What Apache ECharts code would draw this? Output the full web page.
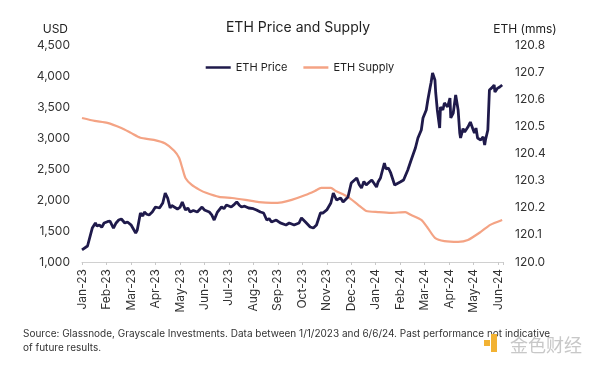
<!DOCTYPE html>
<html>
<head>
<meta charset="utf-8">
<script src="https://cdn.jsdelivr.net/npm/echarts@6/dist/echarts.min.js"></script>
<style>
html,body{margin:0;padding:0;background:#fff;}
#chart{width:600px;height:370px;}
</style>
</head>
<body>
<div id="chart"></div>
<script>
var monthLabels = ['Jan-23','Feb-23','Mar-23','Apr-23','May-23','Jun-23','Jul-23','Aug-23','Sep-23','Oct-23','Nov-23','Dec-23','Jan-24','Feb-24','Mar-24','Apr-24','May-24','Jun-24'];

var priceDates = ['2023-01-01','2023-01-02','2023-01-08','2023-01-14','2023-01-18','2023-01-20','2023-01-23','2023-01-26','2023-01-29','2023-02-02','2023-02-05','2023-02-09','2023-02-12','2023-02-15','2023-02-18','2023-02-22','2023-02-25','2023-03-01','2023-03-03','2023-03-07','2023-03-09','2023-03-13','2023-03-16','2023-03-18','2023-03-21','2023-03-24','2023-03-28','2023-04-01','2023-04-06','2023-04-10','2023-04-13','2023-04-16','2023-04-19','2023-04-21','2023-04-24','2023-04-28','2023-05-01','2023-05-04','2023-05-08','2023-05-11','2023-05-14','2023-05-18','2023-05-23','2023-05-29','2023-06-01','2023-06-07','2023-06-10','2023-06-13','2023-06-17','2023-06-22','2023-06-25','2023-06-28','2023-07-04','2023-07-08','2023-07-11','2023-07-14','2023-07-17','2023-07-21','2023-07-26','2023-08-01','2023-08-05','2023-08-10','2023-08-14','2023-08-18','2023-08-21','2023-08-24','2023-08-30','2023-09-04','2023-09-11','2023-09-15','2023-09-21','2023-09-27','2023-09-30','2023-10-05','2023-10-11','2023-10-15','2023-10-19','2023-10-24','2023-10-27','2023-11-01','2023-11-06','2023-11-09','2023-11-13','2023-11-18','2023-11-21','2023-11-27','2023-12-01','2023-12-08','2023-12-11','2023-12-14','2023-12-17','2023-12-20','2023-12-24','2023-12-27','2024-01-02','2024-01-04','2024-01-07','2024-01-12','2024-01-14','2024-01-17','2024-01-20','2024-01-25','2024-02-01','2024-02-05','2024-02-10','2024-02-14','2024-02-19','2024-02-22','2024-02-26','2024-02-28','2024-03-03','2024-03-05','2024-03-08','2024-03-09','2024-03-11','2024-03-14','2024-03-15','2024-03-17','2024-03-20','2024-03-21','2024-03-24','2024-03-26','2024-03-30','2024-04-02','2024-04-03','2024-04-06','2024-04-09','2024-04-12','2024-04-14','2024-04-15','2024-04-18','2024-04-20','2024-04-24','2024-04-27','2024-04-30','2024-05-02','2024-05-04','2024-05-06','2024-05-10','2024-05-13','2024-05-15','2024-05-16','2024-05-19','2024-05-21','2024-05-22','2024-05-25','2024-05-27','2024-05-28','2024-05-31','2024-06-03','2024-06-06'];
var priceValues = [1195,1210,1258,1548,1629,1580,1597,1560,1629,1650,1661,1548,1630,1677,1694,1629,1645,1600,1597,1468,1516,1790,1740,1806,1770,1758,1806,1887,1871,1952,2113,2032,1871,1910,1887,1855,1880,1968,1839,1870,1806,1830,1806,1887,1839,1806,1760,1677,1806,1887,1860,1919,1887,1930,1968,1920,1887,1900,1871,1860,1839,1806,1790,1677,1700,1645,1677,1630,1597,1629,1597,1629,1710,1645,1565,1548,1597,1790,1790,1839,1952,2113,2000,2032,1968,2048,2274,2355,2250,2194,2300,2242,2290,2323,2210,2290,2355,2597,2500,2516,2436,2242,2290,2323,2484,2645,2839,3000,3129,3323,3452,3613,3823,3887,4048,3935,3726,3452,3161,3500,3452,3565,3500,3645,3323,3403,3694,3452,3081,3000,3150,3097,3177,3258,3150,3081,3160,3000,2968,3020,2887,2968,3129,3774,3742,3820,3855,3742,3800,3823,3855];

var supplyDates = ['2023-01-01','2023-01-17','2023-02-02','2023-02-18','2023-03-01','2023-03-13','2023-03-30','2023-04-13','2023-04-24','2023-04-30','2023-05-04','2023-05-08','2023-05-16','2023-05-26','2023-06-03','2023-06-19','2023-07-05','2023-07-22','2023-08-08','2023-08-24','2023-09-06','2023-09-18','2023-10-05','2023-10-17','2023-10-25','2023-11-06','2023-11-12','2023-11-27','2023-12-10','2023-12-20','2024-01-04','2024-01-20','2024-02-07','2024-02-14','2024-02-26','2024-03-05','2024-03-14','2024-03-26','2024-04-12','2024-04-24','2024-05-10','2024-05-22','2024-06-06'];
var supplyValues = [120.531,120.520,120.513,120.494,120.476,120.458,120.450,120.437,120.410,120.384,120.347,120.310,120.284,120.266,120.255,120.240,120.236,120.229,120.221,120.218,120.220,120.229,120.247,120.262,120.273,120.273,120.262,120.240,120.210,120.188,120.184,120.181,120.184,120.173,120.155,120.125,120.089,120.077,120.074,120.081,120.111,120.137,120.155];

var priceTicks = [1000,1500,2000,2500,3000,3500,4000,4500];
var supplyTicks = [120.0,120.1,120.2,120.3,120.4,120.5,120.6,120.7,120.8];

function monthIndex(s){
  var p = s.split('-').map(Number);
  var dim = new Date(p[0], p[1], 0).getDate();
  return (p[0]-2023)*12 + (p[1]-1) + (p[2]-1)/dim;
}
function pairs(dates, vals){
  return dates.map(function(d,i){ return [monthIndex(d), vals[i]]; });
}

var FONT = 'Inter, "Noto Sans", sans-serif';
var chart = echarts.init(document.getElementById('chart'), null, {renderer:'canvas'});
chart.setOption({
  animation:false,
  backgroundColor:'#fff',
  textStyle:{fontFamily:FONT},
  title:{
    text:'ETH Price and Supply',
    left:293, top:16, textAlign:'center',
    textStyle:{fontSize:14, fontWeight:'normal', color:'#222', fontFamily:FONT}
  },
  legend:{
    top:57, left:'center',
    icon:'rect', itemWidth:25, itemHeight:2.5, itemGap:16,
    textStyle:{fontSize:11, color:'#222', fontFamily:FONT},
    data:['ETH Price','ETH Supply']
  },
  grid:{left:82, right:97, top:45, bottom:108, containLabel:false},
  xAxis:{
    type:'value', min:0, max:17.2, interval:1,
    axisLine:{show:true, lineStyle:{color:'#d0d0d0', width:1}},
    axisTick:{show:true, length:3, inside:false, lineStyle:{color:'#c8c8c8'}},
    splitLine:{show:false},
    axisLabel:{
      rotate:90, margin:7, fontSize:12, color:'#333', fontFamily:FONT,
      formatter:function(v){ var i=Math.round(v); return Math.abs(v-i)<1e-6 && monthLabels[i] ? monthLabels[i] : ''; }
    }
  },
  yAxis:[{
    type:'value', min:priceTicks[0], max:priceTicks[priceTicks.length-1], interval:500,
    position:'left',
    name:'USD', nameLocation:'end', nameGap:10,
    nameTextStyle:{fontSize:12, color:'#222', align:'right', padding:[0,14,0,0], fontFamily:FONT},
    axisLine:{show:false}, axisTick:{show:false}, splitLine:{show:false},
    axisLabel:{fontSize:12, color:'#333', margin:12, fontFamily:FONT,
      formatter:function(v){ return v.toLocaleString('en-US'); }}
  },{
    type:'value', min:supplyTicks[0], max:supplyTicks[supplyTicks.length-1], interval:0.1,
    position:'right',
    name:'ETH (mms)', nameLocation:'end', nameGap:10,
    nameTextStyle:{fontSize:12, color:'#222', align:'center', padding:[0,0,0,44], fontFamily:FONT},
    axisLine:{show:false}, axisTick:{show:false}, splitLine:{show:false},
    axisLabel:{fontSize:12, color:'#333', margin:12, fontFamily:FONT,
      formatter:function(v){ return v.toFixed(1); }}
  }],
  series:[{
    name:'ETH Supply', type:'line', yAxisIndex:1,
    data:pairs(supplyDates, supplyValues),
    symbol:'none', smooth:0.2,
    lineStyle:{color:'#f4a384', width:2.2},
    itemStyle:{color:'#f4a384'},
    z:2
  },{
    name:'ETH Price', type:'line', yAxisIndex:0,
    data:pairs(priceDates, priceValues),
    symbol:'none', smooth:false,
    lineStyle:{color:'#1f1a4b', width:2.8},
    itemStyle:{color:'#1f1a4b'},
    z:3
  }],
  graphic:[{
    type:'text', left:23, top:327,
    style:{
      text:'Source: Glassnode, Grayscale Investments. Data between 1/1/2023 and 6/6/24. Past performance not indicative\nof future results.',
      fontSize:10, lineHeight:14, fill:'#333', fontFamily:FONT
    }
  },{
    type:'rect', shape:{x:484, y:340, width:6, height:6}, style:{fill:'#f2b233'}
  },{
    type:'rect', shape:{x:491, y:334, width:6, height:18}, style:{fill:'#f2b233'}
  },{
    type:'text', left:510, top:336,
    style:{text:'金色财经', fontSize:18, fill:'#c8c8c8', fontFamily:'"Noto Sans CJK SC", sans-serif'}
  }]
});
</script>
</body>
</html>
